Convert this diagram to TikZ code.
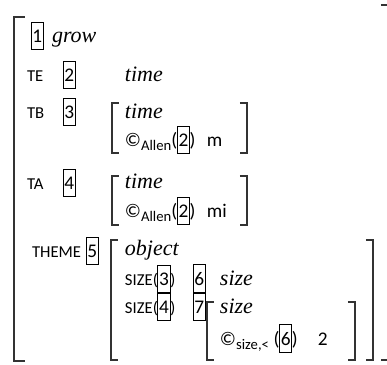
\documentclass[tikz,border=0pt]{standalone}
\usepackage{fontspec}
\setmainfont{Liberation Serif}
\newfontfamily\labelfont{Carlito}
\usetikzlibrary{positioning}

% lowered subscript in the label font
\newcommand{\sub}[1]{\raisebox{-3.5pt}{\fontsize{11}{11}\selectfont #1}}
% square brackets: x, top, bottom
\newcommand{\lbr}[3]{\draw[brak] (#1+7,#2) -- (#1,#2) -- (#1,#3) -- (#1+7,#3);}
\newcommand{\rbr}[3]{\draw[brak] (#1-7,#2) -- (#1,#2) -- (#1,#3) -- (#1-7,#3);}

\begin{document}
\begin{tikzpicture}[
  x=0.75pt, y=-0.75pt,
  every node/.style={inner sep=0pt, outer sep=0pt, anchor=base west},
  word/.style={font=\fontsize{16.5}{17}\selectfont\itshape},
  feat/.style={font=\labelfont\fontsize{12.5}{13}\selectfont},
  val/.style={font=\labelfont\fontsize{14.5}{15}\selectfont},
  tag/.style={draw, line width=0.7pt, font=\labelfont\fontsize{14.5}{15}\selectfont,
              inner xsep=1pt, inner ysep=0pt, minimum height=20.5pt},
  brak/.style={draw=black!80, line width=1.1pt},
]
\useasboundingbox (0,0) rectangle (387,365);

% ================================================================
% Head
% ================================================================
\node[tag]  (t1)   at (31,42) {1};
\node[word] (grow) at (52,42) {grow};

% --- TE ---
\node[feat] (te)    at (27,81)  {TE};
\node[tag]  (t2)    at (63,81)  {2};
\node[word] (timee) at (125,81) {time};

% --- TB ---
\node[feat] (tb)     at (27,118)  {TB};
\node[tag]  (t3)     at (63,118)  {3};
\node[word] (timeb)  at (125,118) {time};
\node[val]  (allenb) at (125,146) {©\sub{Allen}(};
\node[tag]  (tbtwo)  at (allenb.base east) {2};
\node[val]  (tbcl)   at (tbtwo.base east) {)};
\node[val]  (relb)   at (207,146) {m};
\lbr{112}{103}{153}
\rbr{247}{103}{153}

% --- TA ---
\node[feat] (ta)     at (27,189)  {TA};
\node[tag]  (t4)     at (63,189)  {4};
\node[word] (timea)  at (125,188) {time};
\node[val]  (allena) at (125,217) {©\sub{Allen}(};
\node[tag]  (tatwo)  at (allena.base east) {2};
\node[val]  (tacl)   at (tatwo.base east) {)};
\node[val]  (rela)   at (207,217) {mi};
\lbr{112}{176}{225}
\rbr{247}{176}{225}

% ================================================================
% THEME
% ================================================================
\node[feat] (theme)  at (32,257)  {THEME};
\node[tag]  (t5)     at (86,257)  {5};
\node[word] (object) at (125,255) {object};

% SIZE rows
\node[feat] (sizea)   at (125,285) {SIZE(};
\node[tag]  (sathree) at (sizea.base east) {3};
\node[feat] (sacl)    at (sathree.base east) {)};
\node[tag]  (t6)      at (193,285) {6};
\node[word] (sizew)   at (220,285) {size};

\node[feat] (sizeb)  at (125,313) {SIZE(};
\node[tag]  (sbfour) at (sizeb.base east) {4};
\node[feat] (sbcl)   at (sbfour.base east) {)};
\node[tag]  (t7)     at (193,313) {7};
\node[word] (sizev)  at (220,313) {size};
\node[val]  (cmp)    at (220,345) {©\sub{size,<}\hspace{3.5pt}(};
\node[tag]  (cmpsix) at (cmp.base east) {6};
\node[val]  (cmpcl)  at (cmpsix.base east) {)};
\node[val]  (two)    at (318,345) {2};
\lbr{207}{302}{360}
\rbr{355}{302}{360}

\lbr{111}{240}{360}
\rbr{373}{240}{360}

% outer frame
\draw[brak] (25,17) -- (14,17) -- (14,361) -- (25,361);
\draw[brak] (381,5) -- (389,5) -- (389,360) -- (381,360);

\end{tikzpicture}
\end{document}
